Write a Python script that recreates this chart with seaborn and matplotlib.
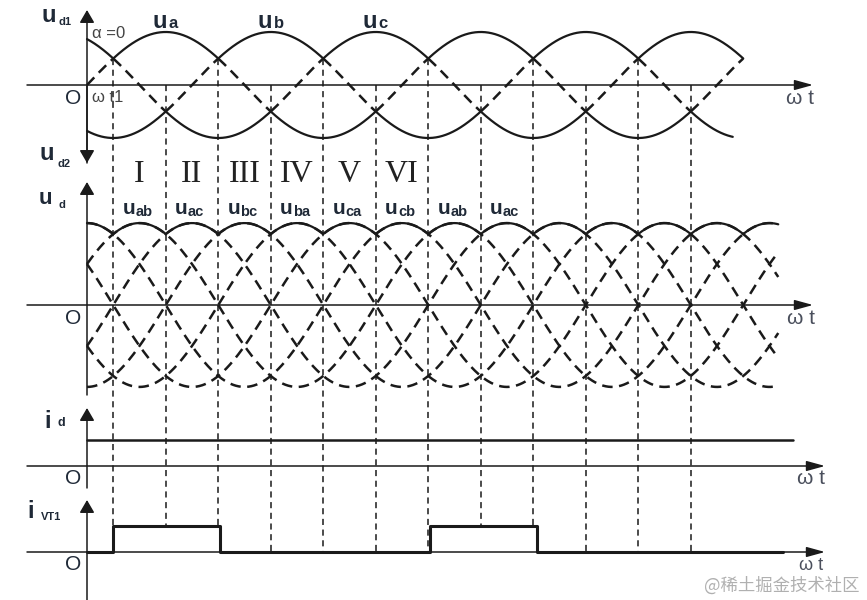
import numpy as np
import pandas as pd
import matplotlib.pyplot as plt
import seaborn as sns

# ---- chart content -------------------------------------------------------
phase_names = ["a", "b", "c"]
phase_shift = [0, -120, 120]                 # degrees
line_names = ["ab", "ac", "bc", "ba", "ca", "cb"]
line_shift = [30, -30, -90, -150, 150, 90]   # degrees, amplitude sqrt(3)
line_label_seq = ["ab", "ac", "bc", "ba", "ca", "cb", "ab", "ac"]
roman = ["I", "II", "III", "IV", "V", "VI"]
commutation = [30, 90, 150, 210, 270, 330, 390, 450, 510, 570, 630, 690]
vt1_on = [30, 392]
vt1_off = [152, 514]
id_level = 1.0
phase_end, phase_low_end = 750, 738
line_end = 790
id_end, vt1_end = 807, 795

# ---- layout (pixels) -----------------------------------------------------
W, H = 867, 600
X0, PX_DEG = 87, 315 / 360
P1_BASE, P1_AMP = 85, 53
P2_BASE, P2_AMP = 305, 47.3
P3_BASE, P3_AMP = 466, 26
P4_BASE, P4_AMP = 552, 26
TXT = "#1f2937"


def px(d):
    """pixel offset -> degrees on the x axis"""
    return d / PX_DEG


def xdeg(p):
    return (p - X0) / PX_DEG


sns.set_theme(style="white")
plt.rcParams["font.family"] = ["Liberation Sans", "DejaVu Sans"]

fig = plt.figure(figsize=(8.67, 6.0), dpi=100)
ax = fig.add_axes([0, 0, 1, 1])


def arrow(x0, y0, x1, y1, style):
    ax.annotate("", xy=(x1, y1), xytext=(x0, y0),
                arrowprops=dict(arrowstyle=style, color="k", lw=1.1,
                                mutation_scale=14, shrinkA=0, shrinkB=0))


HSTYLE = "-|>,head_length=0.8,head_width=0.22"
VSTYLE = "-|>,head_length=0.55,head_width=0.32"

# axes of the four panels
for base, right in [(P1_BASE, 813), (P2_BASE, 813), (P3_BASE, 825), (P4_BASE, 825)]:
    arrow(xdeg(27), base, xdeg(right), base, HSTYLE)
arrow(0, 163, 0, 10, VSTYLE)
arrow(0, 86, 0, 163, VSTYLE)
arrow(0, 395, 0, 182, VSTYLE)
arrow(0, 488, 0, 408, VSTYLE)
arrow(0, 600, 0, 500, VSTYLE)

# ---- panel 1: phase voltages --------------------------------------------
th = np.linspace(0, phase_end, 3001)
ph = np.array([np.sin(np.radians(th + s)) for s in phase_shift])
vmax, vmin = ph.max(axis=0), ph.min(axis=0)
dash_curve = dict(color="k", lw=1.8, linestyle=(0, (4.2, 2.6)))
for v in ph:
    mid = (v < vmax - 1e-9) & (v > vmin + 1e-9)
    ax.plot(th, np.where(mid, P1_BASE - P1_AMP * v, np.nan), **dash_curve)
up = pd.DataFrame({"theta": th, "y": P1_BASE - P1_AMP * vmax})
sns.lineplot(data=up, x="theta", y="y", ax=ax, color="k", lw=1.6,
             estimator=None, sort=False)
low_mask = th <= phase_low_end
low = pd.DataFrame({"theta": th[low_mask], "y": P1_BASE - P1_AMP * vmin[low_mask]})
sns.lineplot(data=low, x="theta", y="y", ax=ax, color="k", lw=1.6,
             estimator=None, sort=False)

# ---- panel 2: line voltages ---------------------------------------------
th2 = np.linspace(0, line_end, 3001)
lv = np.array([np.sqrt(3) * np.sin(np.radians(th2 + s)) for s in line_shift])
for v in lv:
    ax.plot(th2, P2_BASE - P2_AMP * v, **dash_curve)
env = pd.DataFrame({"theta": th2, "y": P2_BASE - P2_AMP * lv.max(axis=0)})
sns.lineplot(data=env, x="theta", y="y", ax=ax, color="k", lw=1.6,
             estimator=None, sort=False, zorder=4)

# ---- panel 3: i_d --------------------------------------------------------
idf = pd.DataFrame({"theta": [0, id_end], "y": [P3_BASE - P3_AMP * id_level] * 2})
sns.lineplot(data=idf, x="theta", y="y", ax=ax, color="k", lw=1.8,
             estimator=None, sort=False)

# ---- panel 4: i_VT1 ------------------------------------------------------
edges = [0] + sorted(vt1_on + vt1_off) + [vt1_end]
vals = []
for e in edges:
    on = any(a <= e < b for a, b in zip(vt1_on, vt1_off))
    vals.append(1.0 if on else 0.0)
vt = pd.DataFrame({"theta": edges, "y": [P4_BASE - P4_AMP * v for v in vals]})
sns.lineplot(data=vt, x="theta", y="y", ax=ax, color="k", lw=2.2,
             estimator=None, sort=False, drawstyle="steps-post", zorder=4)


def ivt(t):
    return 1.0 if any(a <= t < b for a, b in zip(vt1_on, vt1_off)) else 0.0


# ---- commutation guide lines --------------------------------------------
for k, c in enumerate(commutation):
    vals_c = [np.sin(np.radians(c + s)) for s in phase_shift]
    top = P1_BASE - P1_AMP * max(vals_c) if k % 2 == 0 else P1_BASE
    bottom = P4_BASE - P4_AMP * ivt(c)
    ax.plot([c, c], [top, bottom], color="k", lw=1.1, linestyle=(0, (4, 3)), zorder=1)

# ---- text ------------------------------------------------------------------
def sublabel(x, y, main, sub, size, subsize, dx, dy, color=TXT):
    ax.text(x, y, main, ha="left", va="center", fontsize=size,
            fontweight="bold", color=color)
    ax.text(x + px(dx), y + dy, sub, ha="left", va="center",
            fontsize=subsize, fontweight="bold", color=color)


sublabel(xdeg(41), 16, "u", "d1", 17, 8, 17, 6)
sublabel(xdeg(39), 153, "u", "d2", 17, 8, 18, 11)
sublabel(xdeg(39), 199, "u", "d", 16, 8, 19, 6)
sublabel(xdeg(44), 422, "i", "d", 17, 9, 13, 1)
sublabel(xdeg(27), 512, "i", "VT1", 17, 8, 14, 5)

for name, s in zip(phase_names, phase_shift):
    peak = (90 - s) % 360
    sublabel(peak - px(13), 21, "u", name, 17, 12, 16, 2)

for k, name in enumerate(line_label_seq):
    left = (commutation[k] + commutation[k + 1]) / 2 - px(17)
    sublabel(left, 209, "u", name, 15, 10.5, 13, 3)

for k, r in enumerate(roman):
    mid = (commutation[k] + commutation[k + 1]) / 2
    ax.text(mid, 175, r, ha="center", va="center", fontsize=23,
            family="Liberation Serif", color="#222222")

ax.text(xdeg(92), 33, "α =0", ha="left", va="center", fontsize=12, color="#444444")
ax.text(xdeg(92), 98, "ω t1", ha="left", va="center", fontsize=12, color="#444444")

for y in [P1_BASE, P2_BASE, P3_BASE, P4_BASE]:
    ax.text(xdeg(73), y + 13, "O", ha="center", va="center", fontsize=15, color=TXT)
for y, xp, fs in [(P1_BASE, 800, 15), (P2_BASE, 801, 15), (P3_BASE, 811, 15),
                  (P4_BASE, 811, 13)]:
    ax.text(xdeg(xp), y + 13, "ω t", ha="center", va="center", fontsize=fs,
            color="#4a4f5c")

ax.text(xdeg(860), 586, "@稀土掘金技术社区", ha="right", va="center", fontsize=12.5,
        color="#b0b0b0", family=["Noto Sans CJK SC", "DejaVu Sans"])

ax.set_xlim(xdeg(0), xdeg(W))
ax.set_ylim(H, 0)
ax.set_axis_off()

fig.savefig("out.png", dpi=100, facecolor="white")
